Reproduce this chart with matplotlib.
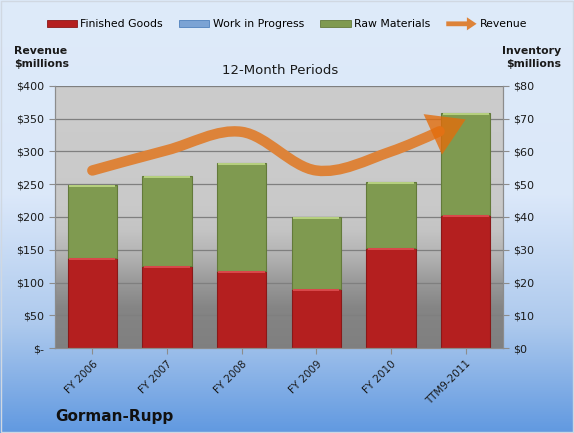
#!/usr/bin/env python3
"""
Gorman-Rupp inventory vs revenue chart (Excel-style look).
"""

import matplotlib
matplotlib.use("Agg")
import matplotlib.pyplot as plt
import numpy as np
from matplotlib.path import Path
from matplotlib.patches import PathPatch, Patch, FancyArrow, FancyArrowPatch, Rectangle
from matplotlib.legend_handler import HandlerPatch
from matplotlib.bezier import split_de_casteljau

# Data
periods = ["FY 2006", "FY 2007", "FY 2008", "FY 2009", "FY 2010", "TTM9-2011"]
finished_goods = [27.5, 25.0, 23.5, 17.9, 30.6, 40.6]
work_in_progress = [0.0, 0.0, 0.0, 0.0, 0.0, 0.0]
raw_materials = [22.3, 27.5, 32.9, 22.2, 20.2, 31.1]
revenue = [271, 302, 330, 271, 300, 349]

revenue_ticks = [0, 50, 100, 150, 200, 250, 300, 350, 400]
inventory_ticks = [0, 10, 20, 30, 40, 50, 60, 70, 80]

RED = "#B41F1F"
BLUE = "#7BA3D4"
GREEN = "#7F9A50"
ORANGE = "#E46C0A"
LINE_ORANGE = "#DD8339"
TEXT = "#1a1a1a"

plt.rcParams["font.family"] = ["DejaVu Sans"]

fig = plt.figure(figsize=(5.74, 4.33), dpi=100)

# Figure background gradient (pale blue to blue)
bg = fig.add_axes([0, 0, 1, 1], zorder=-10)
stops = np.array([0.0, 0.45, 0.75, 1.0])
cols = np.array([[0.87, 0.92, 0.98], [0.86, 0.91, 0.98], [0.68, 0.79, 0.93], [0.38, 0.60, 0.88]])
yy = np.linspace(0, 1, 256)
grad = np.stack([np.interp(yy, stops, cols[:, k]) for k in range(3)], axis=-1)
bg.imshow(grad[:, None, :], aspect="auto", extent=[0, 1, 0, 1], origin="upper")
bg.set_xlim(0, 1)
bg.set_ylim(0, 1)
bg.axis("off")
fig.patches.append(Rectangle((0.002, 0.002), 0.996, 0.996, transform=fig.transFigure,
                             fill=False, edgecolor="#d0d8e2", lw=1.0))

# Axes: axr (inventory, bars) under ax (revenue, line)
ax = fig.add_axes([0.0958, 0.1963, 0.7805, 0.6051])
axr = ax.twinx()
ax.set_zorder(2)
axr.set_zorder(1)
ax.patch.set_visible(False)

# Plot area gray gradient
pstops = np.array([0.0, 0.45, 0.55, 0.65, 0.75, 0.85, 1.0])
pvals = np.array([0.80, 0.79, 0.77, 0.70, 0.60, 0.52, 0.50])
pg = np.interp(yy, pstops, pvals)
pgrad = np.stack([pg, pg, pg], axis=-1)
axr.imshow(pgrad[:, None, :], aspect="auto", extent=[0, 1, 0, 1], origin="upper",
           transform=axr.transAxes, zorder=0)

x = np.arange(len(periods))
axr.set_xlim(-0.5, len(periods) - 0.5)
ax.set_xlim(-0.5, len(periods) - 0.5)
axr.set_ylim(0, 80)
ax.set_ylim(0, 400)

# Gridlines
for t in inventory_ticks[1:]:
    axr.axhline(t, color="#7f7f7f", lw=0.9, zorder=1)

# Stacked bars
width = 0.66
fg = np.array(finished_goods)
wip = np.array(work_in_progress)
rm = np.array(raw_materials)
axr.bar(x, fg, width, color=RED, edgecolor="#8a1818", lw=0.8, zorder=2)
axr.bar(x, wip, width, bottom=fg, color=BLUE, edgecolor="#4f81bd", lw=0.0, zorder=2)
axr.bar(x, rm, width, bottom=fg + wip, color=GREEN, edgecolor="#637a3a", lw=0.8, zorder=2)
# bevel highlights on top of each segment
axr.bar(x, [0.6] * len(x), width * 0.94, bottom=fg - 0.6, color="#d8484a", lw=0, zorder=3)
axr.bar(x, [0.6] * len(x), width * 0.94, bottom=fg + wip + rm - 0.6, color="#b5cf7e", lw=0, zorder=3)

# Smooth revenue line (Catmull-Rom style Bezier through the points)
pts = np.column_stack([x, revenue]).astype(float)
ext = np.vstack([pts[0], pts, pts[-1]])
verts = [tuple(pts[0])]
codes = [Path.MOVETO]
last_seg = None
for i in range(len(pts) - 1):
    p0, p1, p2, p3 = ext[i], ext[i + 1], ext[i + 2], ext[i + 3]
    c1 = p1 + (p2 - p0) / 6.0
    c2 = p2 - (p3 - p1) / 6.0
    if i == len(pts) - 2:
        last_seg = np.array([p1, c1, c2, p2])
        break
    verts += [tuple(c1), tuple(c2), tuple(p2)]
    codes += [Path.CURVE4] * 3
left, right = split_de_casteljau(last_seg, 0.58)
verts += [tuple(left[1]), tuple(left[2]), tuple(left[3])]
codes += [Path.CURVE4] * 3
ax.add_patch(PathPatch(Path(verts, codes), fill=False, edgecolor=LINE_ORANGE,
                       lw=7.5, capstyle="round", zorder=5))
head = FancyArrowPatch(posA=tuple(left[3]), posB=tuple(pts[-1]),
                       arrowstyle="-|>,head_length=1.3,head_width=0.8",
                       mutation_scale=20, color=ORANGE, alpha=0.78, lw=0,
                       shrinkA=0, shrinkB=0, zorder=6)
ax.add_patch(head)

# Ticks and spines
for a in (ax, axr):
    for s in a.spines.values():
        s.set_color("#8c8c8c")
    a.spines["top"].set_visible(False)
    a.tick_params(axis="both", colors="#8c8c8c", labelcolor=TEXT, labelsize=8, length=4, width=0.8)

ax.set_yticks(revenue_ticks)
ax.set_yticklabels(["$-" if v == 0 else f"${v}" for v in revenue_ticks])
axr.set_yticks(inventory_ticks)
axr.set_yticklabels([f"${v}" for v in inventory_ticks])
ax.set_xticks(x)
ax.set_xticklabels(periods, rotation=45, ha="right", rotation_mode="anchor", fontsize=7.5)
axr.set_xticks(x)
axr.tick_params(axis="x", length=0, labelbottom=False)

# Legend
class HandlerArrow(HandlerPatch):
    def create_artists(self, legend, orig_handle, xdescent, ydescent, width, height, fontsize, trans):
        arr = FancyArrow(0, height / 2, width, 0, width=height * 0.7, head_width=height * 1.9,
                         head_length=width * 0.32, length_includes_head=True,
                         color=LINE_ORANGE, lw=0)
        arr.set_transform(trans)
        return [arr]

handles = [
    Patch(facecolor=RED, edgecolor="#8a1818", lw=0.6, label="Finished Goods"),
    Patch(facecolor=BLUE, edgecolor="#4f81bd", lw=0.6, label="Work in Progress"),
    Patch(facecolor=GREEN, edgecolor="#637a3a", lw=0.6, label="Raw Materials"),
    Patch(facecolor=LINE_ORANGE, label="Revenue"),
]
fig.legend(handles=handles, loc="center", bbox_to_anchor=(0.5, 0.944), ncol=4, frameon=False,
           fontsize=7.8, handlelength=2.8, handleheight=0.6, handletextpad=0.3, columnspacing=1.5,
           handler_map={handles[3]: HandlerArrow()})

# Text labels
fig.text(14 / 574, 1 - 46 / 433, "Revenue\n$millions", fontsize=7.8, fontweight="bold",
         ha="left", va="top", color=TEXT, linespacing=1.35)
fig.text(561 / 574, 1 - 46 / 433, "Inventory\n$millions", fontsize=7.8, fontweight="bold",
         ha="right", va="top", color=TEXT, linespacing=1.35)
fig.text(280 / 574, 1 - 70 / 433, "12-Month Periods", fontsize=9.5, ha="center", va="center",
         color=TEXT)
fig.text(55 / 574, 1 - 417 / 433, "Gorman-Rupp", fontsize=11, fontweight="bold",
         ha="left", va="center", color="#111111")

fig.savefig("out.png", dpi=100)
